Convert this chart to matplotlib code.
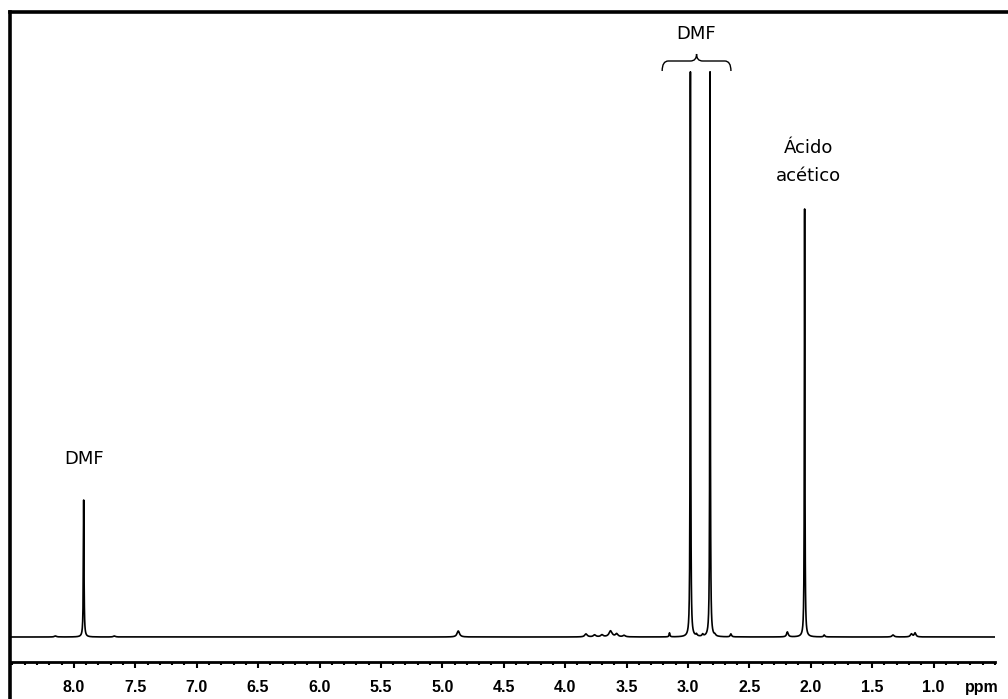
import numpy as np
import matplotlib.pyplot as plt
from matplotlib.lines import Line2D
from matplotlib.path import Path
from matplotlib.patches import PathPatch
from matplotlib.ticker import MultipleLocator

# peak list: shift (ppm), height (arb.), half width (ppm)
peak_ppm = [8.15, 7.92, 7.67, 4.87, 3.83, 3.76, 3.70, 3.63, 3.58, 3.52, 3.15,
            2.98, 2.93, 2.88, 2.82, 2.78, 2.65, 2.19, 2.05, 1.89, 1.33, 1.18, 1.15]
peak_height = [1, 137, 1, 6, 3, 2, 2, 6, 3, 1.5, 4,
               565, 2, 2, 565, 1.5, 3, 5, 428, 2, 2, 3, 4]
peak_hwhm = [0.01, 0.003, 0.01, 0.012, 0.012, 0.012, 0.012, 0.015, 0.012, 0.012, 0.004,
             0.0025, 0.006, 0.006, 0.0025, 0.006, 0.006, 0.008, 0.0025, 0.006, 0.01, 0.01, 0.008]

tick_major = [8.0, 7.5, 7.0, 6.5, 6.0, 5.5, 5.0, 4.5, 4.0, 3.5, 3.0, 2.5, 2.0, 1.5, 1.0]
tick_labels = ["8.0", "7.5", "7.0", "6.5", "6.0", "5.5", "5.0", "4.5", "4.0",
               "3.5", "3.0", "2.5", "2.0", "1.5", "1.0"]

# spectrum = sum of Lorentzian lines
ppm = np.linspace(0.50, 8.52, 80000)
signal = np.zeros_like(ppm)
for c, h, w in zip(peak_ppm, peak_height, peak_hwhm):
    signal += h * w**2 / ((ppm - c)**2 + w**2)

fig = plt.figure(figsize=(10.08, 6.99), dpi=100)
ax = fig.add_axes([10 / 1008, 1 - 662 / 699, 985 / 1008, 649 / 699])
ax.plot(ppm, signal, color="black", lw=1.2)
ax.set_xlim(8.52, 0.50)
ax.set_ylim(-25, 624)

for s in ["top", "right", "left"]:
    ax.spines[s].set_visible(False)
ax.spines["bottom"].set_linewidth(2)
ax.set_yticks([])
# "ppm" sits in the tick label row, without a tick mark
ax.set_xticks(tick_major + [0.61])
ax.set_xticklabels(tick_labels + ["ppm"], fontsize=11.5, fontweight="bold",
                   family="Liberation Sans")
ax.xaxis.get_major_ticks()[-1].tick1line.set_visible(False)
ax.xaxis.set_minor_locator(MultipleLocator(0.1))
ax.tick_params(axis="x", which="major", length=4, width=1.5, pad=9)
ax.tick_params(axis="x", which="minor", length=2.5, width=1.5)

# labels
fs = 13
ax.text(7.92, 178, "DMF", ha="center", va="center", fontsize=fs)
ax.text(2.93, 603, "DMF", ha="center", va="center", fontsize=fs)
ax.text(2.02, 475, "Ácido\nacético", ha="center", va="center", fontsize=fs, linespacing=1.75)

# curly brace over the two DMF methyl signals
x0, x1, xm = 3.21, 2.65, 2.93
yb, yl, yc = 566, 576, 583
d = 0.05
verts = [(x0, yb), (x0, yl), (x0 - d, yl), (xm + d, yl),
         (xm, yl), (xm, yc), (xm, yl), (xm - d, yl),
         (x1 + d, yl), (x1, yl), (x1, yb)]
codes = [Path.MOVETO, Path.CURVE3, Path.CURVE3, Path.LINETO,
         Path.CURVE3, Path.CURVE3, Path.CURVE3, Path.CURVE3,
         Path.LINETO, Path.CURVE3, Path.CURVE3]
ax.add_patch(PathPatch(Path(verts, codes), fill=False, lw=1.0, color="black", clip_on=False))

# outer frame (left and top edges only visible)
fig.add_artist(Line2D([9.5 / 1008, 9.5 / 1008], [0, 1 - 11.5 / 699], color="black", lw=2.6,
                      solid_capstyle="projecting", transform=fig.transFigure))
fig.add_artist(Line2D([9.5 / 1008, 1], [1 - 11.5 / 699, 1 - 11.5 / 699], color="black", lw=2.6,
                      solid_capstyle="projecting", transform=fig.transFigure))

fig.savefig("out.png", dpi=100)
